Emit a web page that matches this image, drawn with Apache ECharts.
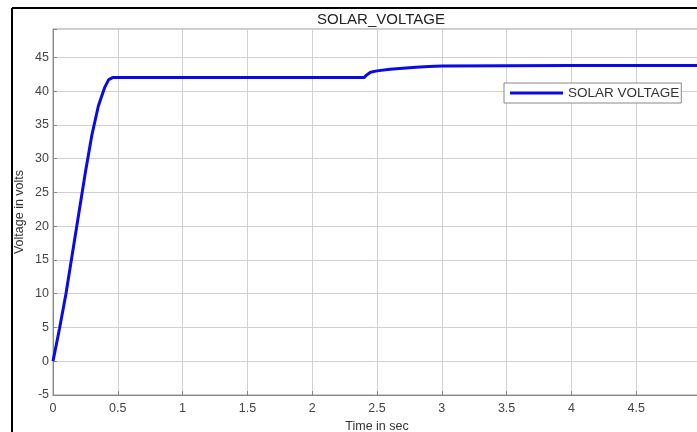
<!DOCTYPE html>
<html>
<head>
<meta charset="utf-8">
<script src="https://cdn.jsdelivr.net/npm/echarts@6/dist/echarts.min.js"></script>
<style>html,body{margin:0;padding:0;background:#fff;}#c{width:697px;height:432px;}</style>
</head>
<body>
<div id="c"></div>
<script>
const timeSec = [0, 0.05, 0.1, 0.15, 0.2, 0.25, 0.3, 0.35, 0.4, 0.43, 0.46, 1.0, 2.0, 2.4, 2.42, 2.45, 2.5, 2.6, 2.7, 2.8, 2.9, 3.0, 3.5, 4.0, 4.5, 5.0];
const solarVoltage = [0, 4.8, 10, 16, 22, 28, 33.5, 37.8, 40.6, 41.7, 42, 42, 42, 42, 42.4, 42.8, 43.0, 43.25, 43.4, 43.55, 43.65, 43.72, 43.76, 43.78, 43.8, 43.8];
const xTicks = [0, 0.5, 1, 1.5, 2, 2.5, 3, 3.5, 4, 4.5, 5];
const yTicks = [-5, 0, 5, 10, 15, 20, 25, 30, 35, 40, 45];

const font = '"Liberation Sans", Arial, sans-serif';
const chart = echarts.init(document.getElementById('c'));
chart.setOption({
  animation: false,
  backgroundColor: '#fff',
  title: {
    text: 'SOLAR_VOLTAGE', left: 376, textAlign: 'center', top: 7,
    textStyle: {fontFamily: font, fontSize: 15, fontWeight: 'normal', color: '#222'}
  },
  legend: {
    left: 504, top: 83, padding: [3, 2, 3, 6],
    backgroundColor: '#fff', borderColor: '#888', borderWidth: 1,
    icon: 'rect', itemWidth: 53, itemHeight: 3, itemGap: 5,
    textStyle: {fontFamily: font, fontSize: 13.5, color: '#333'},
    data: ['SOLAR VOLTAGE']
  },
  grid: {
    left: 53, top: 29, width: 648, height: 366,
    outerBoundsMode: 'none', containLabel: false,
    show: true, borderColor: '#999', borderWidth: 1
  },
  xAxis: {
    type: 'value', min: xTicks[0], max: xTicks[xTicks.length - 1], interval: 0.5,
    name: 'Time in sec', nameLocation: 'middle', nameGap: 22,
    nameTextStyle: {fontFamily: font, fontSize: 12.5, color: '#333'},
    axisLine: {show: true, onZero: false, lineStyle: {color: '#888'}},
    axisTick: {show: true, inside: true, length: 4, lineStyle: {color: '#888'}},
    axisLabel: {fontFamily: font, fontSize: 12.5, color: '#444', margin: 7,
      formatter: v => xTicks.includes(v) ? String(v) : ''},
    splitLine: {show: true, lineStyle: {color: '#d0d0d0', width: 1}}
  },
  yAxis: {
    type: 'value', min: yTicks[0], max: 49.2, interval: 5,
    name: 'Voltage in volts', nameLocation: 'middle', nameGap: 27, nameMoveOverlap: false,
    nameTextStyle: {fontFamily: font, fontSize: 12.5, color: '#333'},
    axisLine: {show: true, onZero: false, lineStyle: {color: '#888'}},
    axisTick: {show: true, inside: true, length: 4, lineStyle: {color: '#888'}},
    axisLabel: {fontFamily: font, fontSize: 12.5, color: '#444', margin: 4,
      formatter: v => yTicks.includes(v) ? String(v) : ''},
    splitLine: {show: true, lineStyle: {color: '#d0d0d0', width: 1}}
  },
  graphic: [
    {type: 'line', shape: {x1: 12, y1: 8, x2: 12, y2: 432}, style: {stroke: '#000', lineWidth: 2}},
    {type: 'line', shape: {x1: 12, y1: 8, x2: 697, y2: 8}, style: {stroke: '#000', lineWidth: 2}}
  ],
  series: [{
    name: 'SOLAR VOLTAGE', type: 'line', showSymbol: false, smooth: false,
    color: '#0a0ae6',
    lineStyle: {width: 3, color: '#0a0ae6'},
    data: timeSec.map((t, i) => [t, solarVoltage[i]])
  }]
});
</script>
</body>
</html>
